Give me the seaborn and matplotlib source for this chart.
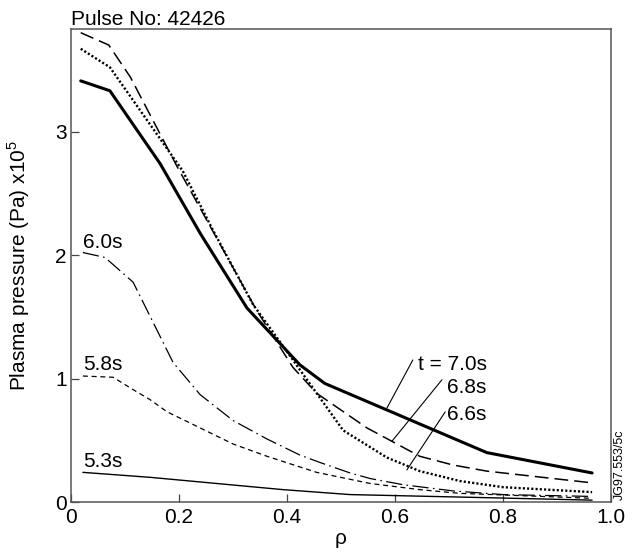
import matplotlib
matplotlib.use("Agg")
import matplotlib.pyplot as plt
import seaborn as sns
import pandas as pd

# ---- data ----
rho_70 = [0.018, 0.072, 0.165, 0.24, 0.326, 0.424, 0.47, 0.77, 0.965]
p_70   = [3.41, 3.33, 2.74, 2.17, 1.57, 1.11, 0.96, 0.40, 0.235]

rho_68 = [0.018, 0.07, 0.11, 0.196, 0.344, 0.411, 0.455, 0.548, 0.646, 0.707, 0.77, 0.965]
p_68   = [3.80, 3.70, 3.44, 2.72, 1.55, 1.09, 0.88, 0.60, 0.37, 0.30, 0.25, 0.155]

rho_66 = [0.018, 0.072, 0.207, 0.263, 0.337, 0.393, 0.455, 0.504, 0.585, 0.646, 0.72, 0.80, 0.965]
p_66   = [3.67, 3.52, 2.68, 2.20, 1.60, 1.26, 0.88, 0.58, 0.36, 0.25, 0.17, 0.12, 0.08]

rho_60 = [0.022, 0.063, 0.115, 0.189, 0.239, 0.30, 0.363, 0.424, 0.461, 0.517, 0.554, 0.615, 0.707, 0.80, 0.965]
p_60   = [2.02, 1.98, 1.78, 1.13, 0.87, 0.66, 0.51, 0.38, 0.32, 0.235, 0.19, 0.14, 0.09, 0.06, 0.045]

rho_58 = [0.022, 0.078, 0.115, 0.146, 0.178, 0.239, 0.30, 0.363, 0.455, 0.554, 0.646, 0.72, 0.965]
p_58   = [1.02, 1.01, 0.91, 0.83, 0.73, 0.60, 0.47, 0.37, 0.24, 0.15, 0.10, 0.07, 0.03]

rho_53 = [0.022, 0.146, 0.393, 0.517, 0.72, 0.965]
p_53   = [0.24, 0.20, 0.10, 0.06, 0.04, 0.015]

series_names = ["7.0s", "6.8s", "6.6s", "6.0s", "5.8s", "5.3s"]
x_ticks = [0, 0.2, 0.4, 0.6, 0.8, 1.0]
x_tick_labels = ["0", "0.2", "0.4", "0.6", "0.8", "1.0"]
y_ticks = [0, 1, 2, 3]
y_tick_labels = ["0", "1", "2", "3"]

all_rho = [rho_70, rho_68, rho_66, rho_60, rho_58, rho_53]
all_p = [p_70, p_68, p_66, p_60, p_58, p_53]

rows = []
for name, xs, ys in zip(series_names, all_rho, all_p):
    for i, (xv, yv) in enumerate(zip(xs, ys)):
        rows.append({"rho": xv, "p": yv, "t": name, "order": i})
df = pd.DataFrame(rows)

# ---- style ----
sns.set_style("white")
plt.rcParams["font.family"] = ["Liberation Sans", "DejaVu Sans"]
plt.rcParams["mathtext.fontset"] = "custom"
plt.rcParams["mathtext.rm"] = "Liberation Sans"
plt.rcParams["text.color"] = "black"
plt.rcParams["axes.labelcolor"] = "black"
plt.rcParams["xtick.color"] = "black"
plt.rcParams["ytick.color"] = "black"

fig = plt.figure(figsize=(6.35, 5.6), dpi=100)
ax = fig.add_axes([71 / 635, 58 / 560, 540 / 635, 473 / 560])

palette = {n: "black" for n in series_names}
sizes = {"7.0s": 2.2, "6.8s": 1.1, "6.6s": 1.7, "6.0s": 0.9, "5.8s": 0.9, "5.3s": 1.0}
dashes = {"7.0s": "", "6.8s": (9, 4), "6.6s": (0.9, 0.9), "6.0s": (13, 3.5, 1.3, 3.5),
          "5.8s": (4, 3), "5.3s": ""}

sns.lineplot(data=df, x="rho", y="p", hue="t", style="t", size="t",
             palette=palette, sizes=sizes, dashes=dashes,
             sort=False, estimator=None, legend=False, ax=ax)

ax.set_xlim(0, 1.0)
ax.set_ylim(0, 3.83)
ax.set_xticks(x_ticks)
ax.set_xticklabels(x_tick_labels)
ax.set_yticks(y_ticks)
ax.set_yticklabels(y_tick_labels)
ax.tick_params(direction="in", length=6, width=0.9, labelsize=15, color="#444444",
               labelcolor="black", bottom=True, left=True, top=False, right=False)
ax.tick_params(axis="x", pad=4)
ax.tick_params(axis="y", pad=3)

for s in ax.spines.values():
    s.set_color("#555555")
    s.set_linewidth(1.1)
    s.set_visible(True)

ax.set_xlabel("ρ", fontsize=15, color="black")
ax.xaxis.set_label_coords(0.5, -0.058)
ax.xaxis.label.set_va("top")
ax.set_ylabel(r"Plasma pressure (Pa) x10$^5$", fontsize=15, color="black")
ax.yaxis.set_label_coords(-0.072, 0.5)

ax.set_title("Pulse No: 42426", loc="left", fontsize=15, pad=3, color="black")

# curve labels
ax.text(0.022, 2.06, "6.0s", fontsize=15, ha="left", va="baseline")
ax.text(0.022, 1.07, "5.8s", fontsize=15, ha="left", va="baseline")
ax.text(0.022, 0.28, "5.3s", fontsize=15, ha="left", va="baseline")

arrow = dict(arrowstyle="-", color="black", lw=0.8, shrinkA=0, shrinkB=0)
ax.text(0.643, 1.07, "t = 7.0s", fontsize=15, ha="left", va="baseline")
ax.annotate("", xy=(0.585, 0.76), xytext=(0.633, 1.15), arrowprops=arrow)
ax.text(0.696, 0.88, "6.8s", fontsize=15, ha="left", va="baseline")
ax.annotate("", xy=(0.594, 0.49), xytext=(0.687, 0.99), arrowprops=arrow)
ax.text(0.696, 0.66, "6.6s", fontsize=15, ha="left", va="baseline")
ax.annotate("", xy=(0.622, 0.26), xytext=(0.693, 0.73), arrowprops=arrow)

fig.text(620 / 635, 60 / 560, "JG97.553/5c", rotation=90, fontsize=9,
         ha="center", va="bottom", color="black")

fig.savefig("out.png", dpi=100)
